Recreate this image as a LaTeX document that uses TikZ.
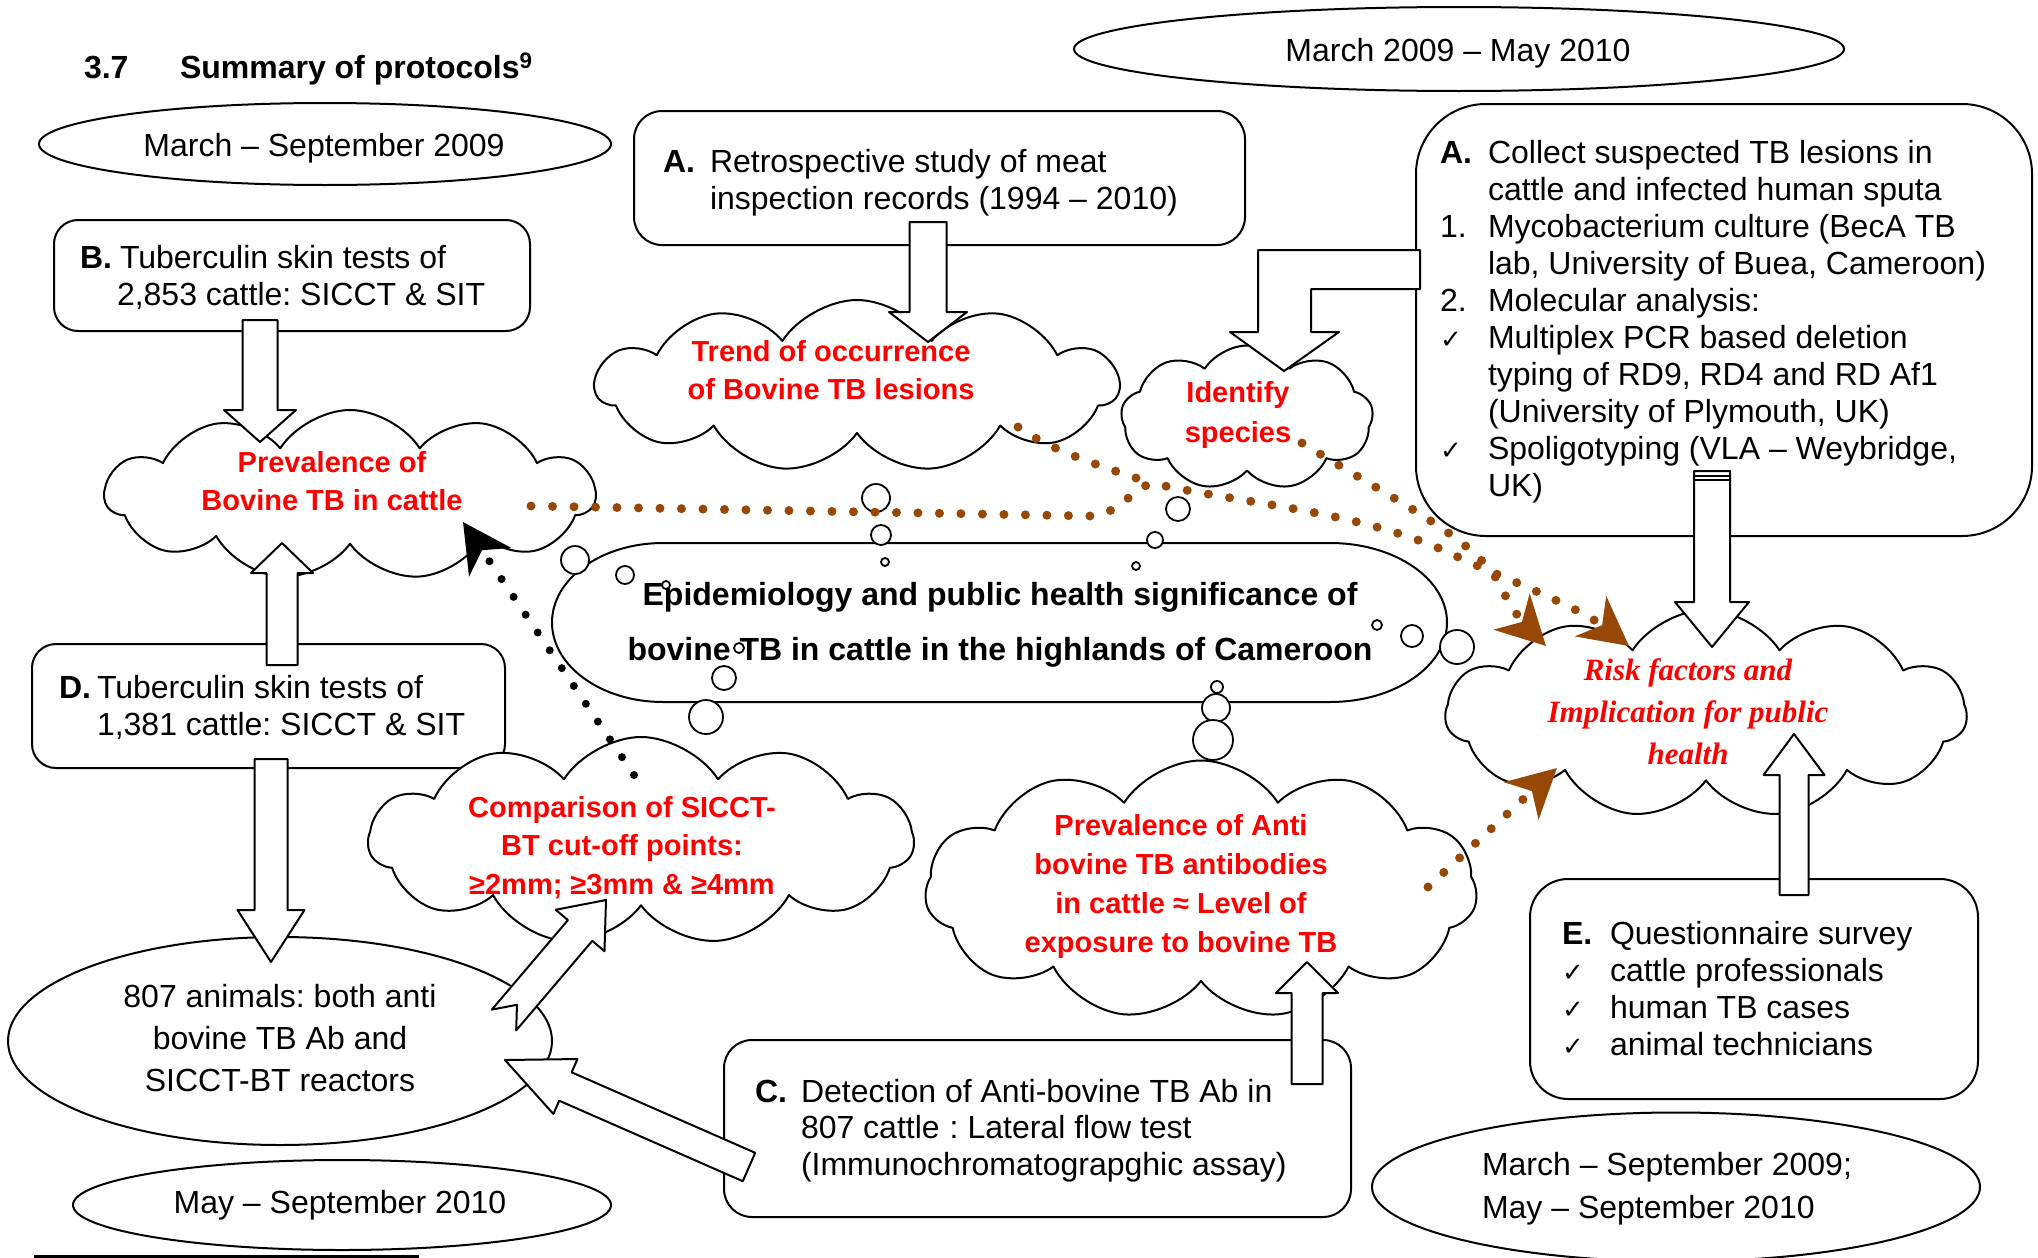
\documentclass[tikz,border=0pt]{standalone}
\usepackage{fontspec}
\setmainfont{Liberation Sans}
\newfontfamily\serifbi{Liberation Serif}
\newfontfamily\dejavu{DejaVu Sans}
\usetikzlibrary{shapes.symbols,shapes.geometric,calc,arrows.meta}
\definecolor{brn}{RGB}{151,72,6}
\definecolor{tred}{RGB}{255,0,0}
\frenchspacing
\newcommand\ck{{\dejavu\fontsize{26}{37}\selectfont ✓}}
\newcommand\lab[2]{\makebox[#1][l]{#2}}
\newcommand\ind[1]{\hspace*{#1}}
% block arrow: tail, tip, half shaft, half head, head length
\newcommand\barrow[5]{%
  \path ($(#2)!#5!(#1)$) coordinate (#2h);
  \draw[blk] ($(#1)!#3!90:(#2)$) -- ($(#2h)!#3!90:(#2)$) -- ($(#2h)!#4!90:(#2)$) -- (#2)
    -- ($(#2h)!#4!-90:(#2)$) -- ($(#2h)!#3!-90:(#2)$) -- ($(#1)!#3!-90:(#2)$) -- cycle;}
% notched block arrow: extra notch depth
\newcommand\narrow[6]{%
  \path ($(#2)!#5!(#1)$) coordinate (#2h);
  \draw[blk] ($(#1)!#3!90:(#2)$) -- ($(#2h)!#3!90:(#2)$) -- ($(#2h)!#4!90:(#2)$) -- (#2)
    -- ($(#2h)!#4!-90:(#2)$) -- ($(#2h)!#3!-90:(#2)$) -- ($(#1)!#3!-90:(#2)$) -- ($(#1)!#6!(#2)$) -- cycle;}
\begin{document}
\begin{tikzpicture}[x=1pt,y=-1pt,line join=round,
  every node/.style={inner sep=0pt,outer sep=0pt},
  box/.style={draw,line width=2pt,fill=white,rounded corners=#1},
  ell/.style={ellipse,draw,line width=2pt,fill=white},
  cld/.style={cloud,cloud puffs=#1,cloud puff arc=115,draw,line width=2pt,fill=white,cloud ignores aspect},
  bub/.style={circle,draw,line width=1.8pt,fill=white,minimum size=#1},
  txt/.style={font=\fontsize{32}{37}\selectfont,align=left,anchor=base west},
  ctxt/.style={font=\fontsize{32}{37}\selectfont,align=center,anchor=base},
  rtxt/.style={font=\fontsize{29}{38.5}\selectfont\bfseries,text=tred,align=center,anchor=base},
  blk/.style={draw,line width=2pt,fill=white},
  dots/.style={line width=9pt,line cap=round,dash pattern=on 0pt off 21.5pt},
  tipb/.style={-{Stealth[length=48pt,width=50pt,inset=14pt]}},
]
\useasboundingbox (0,0) rectangle (2038,1258);
\fill[white] (0,0) rectangle (2038,1258);

% title
\node[anchor=base west,font=\fontsize{32}{37}\selectfont\bfseries] (ttlA) at (84,78) {3.7};
\node[anchor=base west,font=\fontsize{32}{37}\selectfont\bfseries] (ttlB) at (180,78) {Summary of protocols\textsuperscript{9}};

% ellipses
\node[ell,minimum width=572pt,minimum height=82pt] (e1) at (325,144) {};
\node[ell,minimum width=770pt,minimum height=84pt] (e2) at (1459,49) {};
\node[ell,minimum width=544pt,minimum height=208pt] (e3) at (280,1041) {};
\node[ell,minimum width=538pt,minimum height=90pt] (e4) at (342,1205) {};
\node[ell,minimum width=608pt,minimum height=149pt] (e5) at (1676,1187) {};

% boxes
\node[box=24pt,minimum width=476pt,minimum height=111pt] (bB) at (292,275.5) {};
\node[box=28pt,minimum width=611pt,minimum height=134pt] (bA1) at (939.5,178) {};
\node[box=70pt,minimum width=616pt,minimum height=432pt] (bA2) at (1724,320) {};
\node[box=24pt,minimum width=473pt,minimum height=124pt] (bD) at (268.5,706) {};
\node[box=28pt,minimum width=627pt,minimum height=177pt] (bC) at (1037.5,1128.5) {};
\node[box=38pt,minimum width=448pt,minimum height=220pt] (bE) at (1754,989) {};

% central shape
\coordinate (epi) at (1000,622);
\draw[line width=2pt,fill=white] (663,543) -- (1330,543)
  .. controls (1394.6,543) and (1447,578.6) .. (1447,622.5)
  .. controls (1447,666.4) and (1394.6,702) .. (1330,702) -- (663,702)
  .. controls (601.7,702) and (552,666.4) .. (552,622.5)
  .. controls (552,578.6) and (601.7,543) .. (663,543) -- cycle;

% clouds
\node[cld=11,minimum width=523pt,minimum height=172pt] (cT) at (857,386) {};
\node[cld=9,minimum width=252pt,minimum height=145pt] (cI) at (1247,418) {};
\node[cld=11,minimum width=490pt,minimum height=170pt] (cP) at (350,495) {};
\node[cld=11,minimum width=545pt,minimum height=208pt] (cC) at (641,841) {};
\node[cld=11,minimum width=552pt,minimum height=259pt] (cA) at (1201,890) {};
\node[cld=11,minimum width=521pt,minimum height=208pt] (cR) at (1706,714) {};

% thought bubbles
\node[bub=28pt] (u1) at (876,498) {};
\node[bub=20pt] (u2) at (881,535) {};
\node[bub=8pt] (u3) at (885,562) {};
\node[bub=24pt] (u4) at (1178,509) {};
\node[bub=16pt] (u5) at (1155,540) {};
\node[bub=8pt] (u6) at (1136,566) {};
\node[bub=28pt] (u7) at (575,560) {};
\node[bub=18pt] (u8) at (625,575) {};
\node[bub=8pt] (u9) at (666,585) {};
\node[bub=24pt] (u11) at (724,678) {};
\node[bub=34pt] (u12) at (706,717) {};
\node[bub=10pt] (u13) at (1377,625) {};
\node[bub=22pt] (u14) at (1412,636) {};
\node[bub=34pt] (u15) at (1457,647) {};
\node[bub=12pt] (u16) at (1217,687) {};
\node[bub=28pt] (u17) at (1216,708) {};
\node[bub=40pt] (u18) at (1213,740) {};

% texts (anchor = baseline of the last line)
\node[ctxt] (te1) at (324,156) {March – September 2009};
\node[ctxt] (te2) at (1458,61) {March 2009 – May 2010};
\node[ctxt,font=\fontsize{32}{42}\selectfont] (te3) at (280,1091) {807 animals: both anti\\bovine TB Ab and\\SICCT-BT reactors};
\node[ctxt] (te4) at (340,1213) {May – September 2010};
\node[txt,font=\fontsize{32}{43.5}\selectfont] (te5) at (1482,1218.5) {March – September 2009;\\May – September 2010};

\node[txt] (tB) at (80,305) {\lab{40pt}{\bfseries B.}Tuberculin skin tests of\\\ind{37pt}2,853 cattle: SICCT \& SIT};
\node[txt] (tA1) at (663,209) {\lab{47pt}{\bfseries A.}Retrospective study of meat\\\ind{47pt}inspection records (1994 – 2010)};
\node[txt] (tA2) at (1440,496) {\lab{48pt}{\bfseries A.}Collect suspected TB lesions in\\
  \ind{48pt}cattle and infected human sputa\\
  \lab{48pt}{1.}Mycobacterium culture (BecA TB\\
  \ind{48pt}lab, University of Buea, Cameroon)\\
  \lab{48pt}{2.}Molecular analysis:\\
  \lab{48pt}{\ck}Multiplex PCR based deletion\\
  \ind{48pt}typing of RD9, RD4 and RD Af1\\
  \ind{48pt}(University of Plymouth, UK)\\
  \lab{48pt}{\ck}Spoligotyping (VLA – Weybridge,\\
  \ind{48pt}UK)};
\node[txt] (tD) at (59,735) {\lab{38pt}{\bfseries D.}Tuberculin skin tests of\\\ind{38pt}1,381 cattle: SICCT \& SIT};
\node[txt,font=\fontsize{32}{36.5}\selectfont] (tC) at (755,1175) {\lab{46pt}{\bfseries C.}Detection of Anti-bovine TB Ab in\\
  \ind{46pt}807 cattle\hspace{10pt}: Lateral flow test\\
  \ind{46pt}(Immunochromatograpghic assay)};
\node[txt] (tE) at (1562,1055) {\lab{48pt}{\bfseries E.}Questionnaire survey\\
  \lab{48pt}{\ck}cattle professionals\\
  \lab{48pt}{\ck}human TB cases\\
  \lab{48pt}{\ck}animal technicians};

\node[ctxt,font=\fontsize{32}{55}\selectfont\bfseries] (tepi) at (1000,660) {Epidemiology and public health significance of\\bovine TB in cattle in the highlands of Cameroon};
\node[bub=10pt] (u10) at (739,648) {};

\node[rtxt] (rT) at (831,399.5) {Trend of occurrence\\of Bovine TB lesions};
\node[rtxt,font=\fontsize{29}{40}\selectfont\bfseries] (rI) at (1238,442) {Identify\\species};
\node[rtxt] (rP) at (332,510.5) {Prevalence of\\Bovine TB in cattle};
\node[rtxt] (rC) at (622,894) {Comparison of SICCT-\\BT cut-off points:\\≥2mm; ≥3mm \& ≥4mm};
\node[rtxt,font=\fontsize{29}{39}\selectfont\bfseries] (rA) at (1181,952) {Prevalence of Anti\\bovine TB antibodies\\in cattle ≈ Level of\\exposure to bovine TB};
\node[rtxt,font=\fontsize{31}{42}\selectfont\serifbi\bfseries\itshape] (rR) at (1688,764) {Risk factors and\\Implication for public\\health};

% dotted connectors
\coordinate (d1s) at (531,506);
\coordinate (dm) at (1151,483);
\coordinate (d2s) at (1018,427);
\coordinate (d3s) at (1302,443);
\coordinate (d4s) at (1428,887);
\coordinate (tip1) at (1546,646);
\coordinate (tip2) at (1629,646);
\coordinate (tip3) at (1557,768);
\coordinate (k1) at (634,775);
\coordinate (ktip) at (463,522);

\draw[dots,brn,tipb] (d1s) -- (1090,516) .. controls (1115,516) and (1130,492) .. (dm)
  .. controls (1250,505) and (1370,512) .. (1462,559)
  .. controls (1500,576) and (1580,608) .. (tip2);
\draw[dots,brn] (d2s) .. controls (1050,450) and (1100,466) .. (dm);
\draw[dots,brn,tipb] (d3s) .. controls (1420,515) and (1485,545) .. (1505,595)
  .. controls (1515,615) and (1530,630) .. (tip1);
\draw[dots,brn,tipb] (d4s) -- (tip3);
\draw[dots,line width=8pt,black,tipb] (k1) -- (ktip);

% block arrows
\coordinate (at) at (260,320);  \coordinate (ap) at (260,442);
\coordinate (bt) at (282,665);  \coordinate (bp) at (282,543);
\coordinate (ct) at (271,759);  \coordinate (cp) at (271,962);
\coordinate (dt) at (504,1020); \coordinate (dp) at (606,900);
\coordinate (et) at (749,1167); \coordinate (ep) at (505,1060);
\coordinate (ft) at (1307,1084); \coordinate (fp) at (1307,962);
\coordinate (gt) at (928,222);  \coordinate (gp) at (928,342);
\coordinate (it) at (1712,471); \coordinate (ip) at (1712,647);
\coordinate (jt) at (1794,895); \coordinate (jp) at (1794,734);
\barrow{at}{ap}{17.5pt}{36pt}{32pt}
\barrow{bt}{bp}{15.5pt}{31pt}{30pt}
\barrow{ct}{cp}{16.5pt}{33.5pt}{52pt}
\narrow{dt}{dp}{16pt}{32pt}{40pt}{20pt}
\barrow{et}{ep}{15.5pt}{30pt}{66pt}
\barrow{ft}{fp}{15.5pt}{31pt}{31pt}
\barrow{gt}{gp}{18.5pt}{39pt}{30pt}
\barrow{it}{ip}{18pt}{37pt}{45pt}
\barrow{jt}{jp}{14.5pt}{30.5pt}{41pt}
\draw[line width=1.2pt] (1694,476) -- (1730,476) (1694,480) -- (1730,480);
% L-shaped arrow from A (collect) to Identify species
\coordinate (hp) at (1284,371);
\draw[blk] (1420,250) -- (1258,250) -- (1258,332) -- (1230,332) -- (hp) -- (1339,332)
  -- (1311,332) -- (1311,289) -- (1420,289) -- cycle;

% footnote rule
\draw[line width=3pt] (34,1256) -- (419,1256);
\end{tikzpicture}
\end{document}
